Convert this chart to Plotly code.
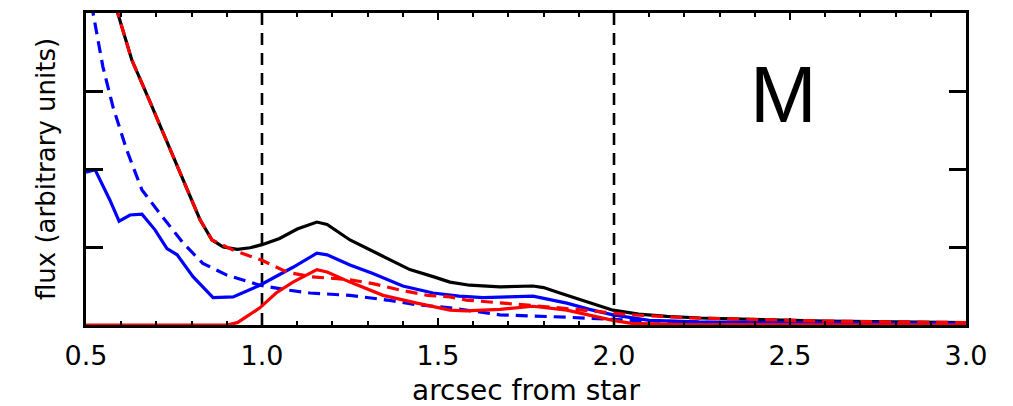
import plotly.graph_objects as go

# ---- data ----
black_x = [0.50, 0.55, 0.59, 0.63, 0.68, 0.72, 0.759, 0.79, 0.824, 0.858, 0.89, 0.93, 0.966, 1.00, 1.05, 1.10,
           1.156, 1.185, 1.25, 1.335, 1.42, 1.486, 1.534, 1.59, 1.676, 1.77, 1.80, 1.846, 1.92, 1.997, 2.07,
           2.15, 2.244, 2.40, 2.60, 2.80, 3.00]
black_y = [6.5, 5.0, 4.0, 3.40, 2.88, 2.45, 2.03, 1.70, 1.35, 1.09, 1.00, 0.97, 0.99, 1.03, 1.11, 1.23,
           1.32, 1.29, 1.09, 0.90, 0.71, 0.62, 0.55, 0.51, 0.49, 0.50, 0.48, 0.41, 0.30, 0.19, 0.14,
           0.11, 0.09, 0.07, 0.05, 0.04, 0.03]

reddash_x = [0.50, 0.55, 0.59, 0.63, 0.68, 0.72, 0.759, 0.79, 0.824, 0.858, 0.918, 1.00, 1.07, 1.136, 1.20,
             1.25, 1.315, 1.39, 1.47, 1.534, 1.58, 1.70, 1.82, 1.96, 2.05, 2.22, 2.40, 2.60, 2.80, 3.00]
reddash_y = [6.5, 5.0, 4.0, 3.40, 2.88, 2.45, 2.03, 1.70, 1.35, 1.09, 0.96, 0.83, 0.68, 0.62, 0.60,
             0.58, 0.53, 0.45, 0.38, 0.36, 0.32, 0.28, 0.23, 0.17, 0.13, 0.09, 0.07, 0.05, 0.04, 0.03]

blue_x = [0.50, 0.526, 0.568, 0.594, 0.625, 0.659, 0.696, 0.73, 0.759, 0.804, 0.861, 0.918, 0.994, 1.088,
          1.156, 1.185, 1.25, 1.315, 1.40, 1.486, 1.56, 1.628, 1.70, 1.77, 1.866, 1.93, 1.997, 2.10, 2.24,
          2.50, 3.00]
blue_y = [1.96, 1.99, 1.60, 1.33, 1.41, 1.42, 1.22, 0.98, 0.90, 0.62, 0.35, 0.36, 0.51, 0.74,
          0.92, 0.90, 0.77, 0.66, 0.50, 0.41, 0.37, 0.35, 0.36, 0.37, 0.28, 0.20, 0.13, 0.06, 0.04,
          0.03, 0.02]

bluedash_x = [0.50, 0.52, 0.548, 0.577, 0.616, 0.659, 0.71, 0.776, 0.832, 0.90, 0.994, 1.07, 1.136, 1.25,
              1.355, 1.44, 1.534, 1.676, 1.866, 2.05, 2.30, 2.60, 3.00]
bluedash_y = [4.6, 4.0, 3.31, 2.79, 2.24, 1.73, 1.43, 1.05, 0.79, 0.64, 0.51, 0.45, 0.41, 0.38,
              0.32, 0.26, 0.22, 0.13, 0.10, 0.06, 0.03, 0.02, 0.01]

red_x = [0.50, 0.90, 0.93, 0.994, 1.04, 1.088, 1.156, 1.185, 1.25, 1.344, 1.44, 1.534, 1.58, 1.676, 1.77,
         1.866, 1.997, 2.05, 2.20, 3.00]
red_y = [0.0, 0.0, 0.03, 0.22, 0.41, 0.55, 0.71, 0.68, 0.55, 0.38, 0.28, 0.19, 0.18, 0.20, 0.24,
         0.19, 0.06, 0.02, 0.005, 0.0]

vline_x = [1.0, 2.0]
x_ticks = [0.5, 1.0, 1.5, 2.0, 2.5, 3.0]
x_ticktext = ["0.5", "1.0", "1.5", "2.0", "2.5", "3.0"]
y_ticks = [0, 1, 2, 3, 4]
panel_label = "M"

FONT = "DejaVu Sans"
LW = 3.2

fig = go.Figure()
for vx in vline_x:
    fig.add_trace(go.Scatter(x=[vx, vx], y=[0, 4], mode="lines",
                             line=dict(color="black", width=2.6, dash="12px,8px"),
                             showlegend=False, hoverinfo="skip"))

fig.add_trace(go.Scatter(x=black_x, y=black_y, mode="lines",
                         line=dict(color="black", width=LW), showlegend=False))
fig.add_trace(go.Scatter(x=blue_x, y=blue_y, mode="lines",
                         line=dict(color="#0000ff", width=LW), showlegend=False))
fig.add_trace(go.Scatter(x=bluedash_x, y=bluedash_y, mode="lines",
                         line=dict(color="#0000ff", width=LW, dash="12px,7px"), showlegend=False))
fig.add_trace(go.Scatter(x=red_x, y=red_y, mode="lines",
                         line=dict(color="#ff0000", width=LW), showlegend=False))
fig.add_trace(go.Scatter(x=reddash_x, y=reddash_y, mode="lines",
                         line=dict(color="#ff0000", width=LW, dash="12px,7px"), showlegend=False))

fig.add_annotation(x=0.793, y=0.74, xref="paper", yref="paper", xanchor="center", yanchor="middle",
                   text=panel_label, showarrow=False,
                   font=dict(family="Liberation Sans, Arial, sans-serif", size=80, color="black"))

fig.update_layout(
    width=1013, height=406,
    margin=dict(l=78, r=55, t=5, b=89),
    plot_bgcolor="white", paper_bgcolor="white",
    font=dict(family=FONT, color="black"),
    xaxis=dict(range=[0.5, 3.0], tickvals=x_ticks, ticktext=x_ticktext,
               ticks="inside", ticklen=7, tickwidth=2, tickcolor="black",
               minor=dict(dtick=0.1, ticks="inside", ticklen=4, tickwidth=2, tickcolor="black"),
               showline=True, linewidth=3, linecolor="black", mirror="ticks",
               showgrid=False, zeroline=False, automargin=False, ticklabelstandoff=5,
               tickfont=dict(family=FONT, size=27),
               title=dict(text="arcsec from star", font=dict(family=FONT, size=28), standoff=10)),
    yaxis=dict(range=[0, 4], tickvals=y_ticks, showticklabels=False,
               ticks="inside", ticklen=17, tickwidth=2.5, tickcolor="black",
               showline=True, linewidth=3, linecolor="black", mirror="ticks",
               showgrid=False, zeroline=False, automargin=False,
               title=dict(text="flux (arbitrary units)", font=dict(family=FONT, size=26), standoff=20)),
)

fig.write_html("out.html")
